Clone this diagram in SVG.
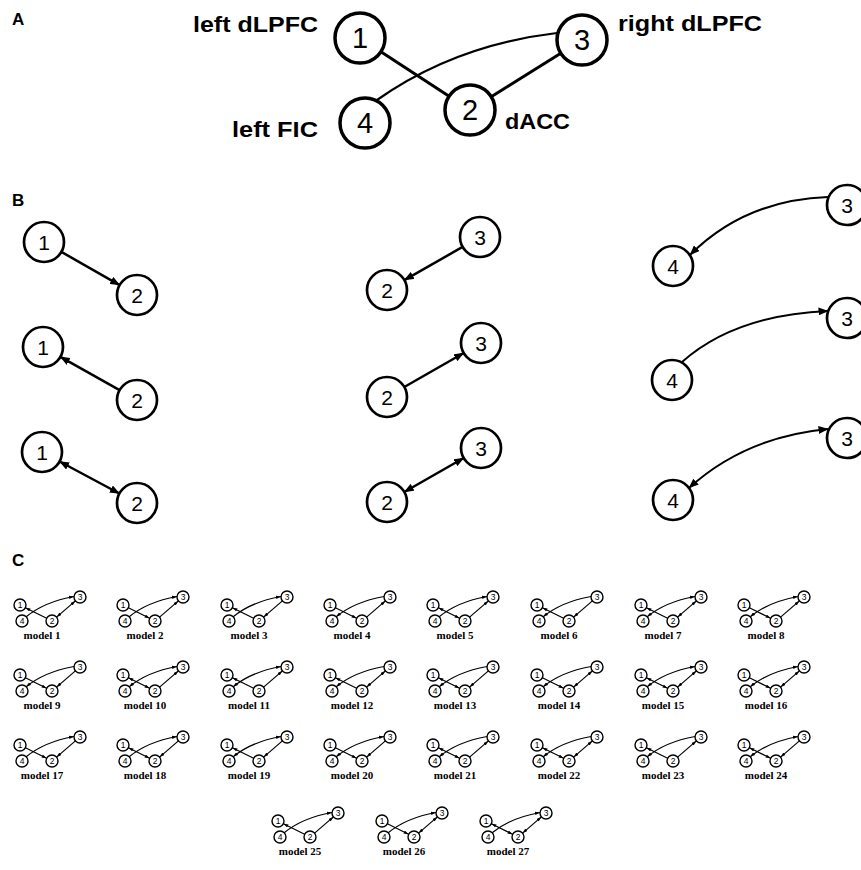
<svg xmlns="http://www.w3.org/2000/svg" width="861" height="870" viewBox="0 0 861 870">
<style>
text{font-family:"Liberation Sans",Arial,sans-serif;fill:#000}
.pl{font-size:17px;font-weight:bold}
.lab{font-size:22px;font-weight:bold}
.na circle{fill:#fff;stroke:#000;stroke-width:3.5}
.na text{font-size:29px;text-anchor:middle}
.nb circle{fill:#fff;stroke:#000;stroke-width:2.7}
.nb text{font-size:21px;text-anchor:middle}
.nc circle{fill:#fff;stroke:#000;stroke-width:1.4}
.nc text{font-size:8.5px;text-anchor:middle}
.ea{fill:none;stroke:#000;stroke-width:3}
.ea.cv{stroke-width:2.2}
.eb{fill:none;stroke:#000;stroke-width:2.5}
.eb.cv{stroke-width:2}
.be{marker-end:url(#ab)}
.bs{marker-start:url(#ab)}
.bb{marker-start:url(#ab);marker-end:url(#ab)}
.ec{fill:none;stroke:#000;stroke-width:1.2}
.e{marker-end:url(#as)}
.s{marker-start:url(#as)}
.b{marker-start:url(#as);marker-end:url(#as)}
.ml{font-family:"Liberation Serif","Times New Roman",serif;font-size:11px;font-weight:bold;text-anchor:middle}
</style>
<defs>
<marker id="ab" viewBox="0 0 10 8" refX="9.5" refY="4" markerWidth="10" markerHeight="8" markerUnits="userSpaceOnUse" orient="auto-start-reverse"><path d="M0,0L10,4L0,8z"/></marker>
<marker id="as" viewBox="0 0 6 4" refX="6" refY="2" markerWidth="5" markerHeight="3.6" markerUnits="userSpaceOnUse" orient="auto-start-reverse"><path d="M0,0L6,2L0,4z"/></marker>
</defs>
<rect width="861" height="870" fill="#fff"/>

<text class="pl" x="12" y="25">A</text>
<text class="pl" x="12" y="206">B</text>
<text class="pl" x="12" y="566">C</text>

<!-- Panel A -->
<g id="a-edges">
<path class="ea" d="M380.9,51.7L449.1,96.3"/>
<path class="ea" d="M491.2,96.7L560.8,53.3"/>
<path class="ea cv" d="M377,100Q455,45 557,33"/>
</g>
<g id="a-n1" class="na"><circle cx="360" cy="38" r="25"/><text x="360" y="48">1</text></g>
<g id="a-n2" class="na"><circle cx="470" cy="110" r="25"/><text x="470" y="120">2</text></g>
<g id="a-n3" class="na"><circle cx="582" cy="40" r="25"/><text x="582" y="50">3</text></g>
<g id="a-n4" class="na"><circle cx="365" cy="123" r="25"/><text x="365" y="133">4</text></g>
<text class="lab" x="193" y="32" textLength="125" lengthAdjust="spacingAndGlyphs">left dLPFC</text>
<text class="lab" x="232" y="137" textLength="86" lengthAdjust="spacingAndGlyphs">left FIC</text>
<text class="lab" x="618" y="31" textLength="144" lengthAdjust="spacingAndGlyphs">right dLPFC</text>
<text class="lab" x="505" y="129" textLength="65" lengthAdjust="spacingAndGlyphs">dACC</text>

<!-- Panel B -->
<g id="b-edges">
<path class="eb be" d="M61.4,251.9L119.6,285.1"/>
<path class="eb bs" d="M60.4,356.8L119.6,390.2"/>
<path class="eb bb" d="M59.6,461.5L119.4,493.5"/>
<path class="eb bs" d="M404.4,280.1L462.6,246.9"/>
<path class="eb be" d="M404.3,387L463.7,353"/>
<path class="eb bb" d="M404.3,492L463.7,458"/>
<path class="eb cv bs" d="M690,255Q745,200 828,197"/>
<path class="eb cv be" d="M682,362Q735,315 828,311"/>
<path class="eb cv bb" d="M689,488Q745,437 828,429"/>
</g>
<g id="b1-n1" class="nb"><circle cx="44" cy="242" r="20"/><text x="44" y="249.5">1</text></g>
<g id="b1-n2" class="nb"><circle cx="137" cy="295" r="20"/><text x="137" y="302.5">2</text></g>
<g id="b2-n1" class="nb"><circle cx="43" cy="347" r="20"/><text x="43" y="354.5">1</text></g>
<g id="b2-n2" class="nb"><circle cx="137" cy="400" r="20"/><text x="137" y="407.5">2</text></g>
<g id="b3-n1" class="nb"><circle cx="42" cy="452" r="20"/><text x="42" y="459.5">1</text></g>
<g id="b3-n2" class="nb"><circle cx="137" cy="503" r="20"/><text x="137" y="510.5">2</text></g>
<g id="b4-n3" class="nb"><circle cx="480" cy="237" r="20"/><text x="480" y="244.5">3</text></g>
<g id="b4-n2" class="nb"><circle cx="387" cy="290" r="20"/><text x="387" y="297.5">2</text></g>
<g id="b5-n3" class="nb"><circle cx="481" cy="343" r="20"/><text x="481" y="350.5">3</text></g>
<g id="b5-n2" class="nb"><circle cx="387" cy="397" r="20"/><text x="387" y="404.5">2</text></g>
<g id="b6-n3" class="nb"><circle cx="481" cy="448" r="20"/><text x="481" y="455.5">3</text></g>
<g id="b6-n2" class="nb"><circle cx="387" cy="502" r="20"/><text x="387" y="509.5">2</text></g>
<g id="b7-n3" class="nb"><circle cx="847" cy="205" r="20"/><text x="847" y="212.5">3</text></g>
<g id="b7-n4" class="nb"><circle cx="673" cy="266" r="20"/><text x="673" y="273.5">4</text></g>
<g id="b8-n3" class="nb"><circle cx="847" cy="318" r="20"/><text x="847" y="325.5">3</text></g>
<g id="b8-n4" class="nb"><circle cx="672" cy="380" r="20"/><text x="672" y="387.5">4</text></g>
<g id="b9-n3" class="nb"><circle cx="847" cy="438" r="20"/><text x="847" y="445.5">3</text></g>
<g id="b9-n4" class="nb"><circle cx="673" cy="500" r="20"/><text x="673" y="507.5">4</text></g>

<!-- Panel C -->
<g id="model-1" transform="translate(20,605)">
<g id="m1-edges"><path class="ec s" d="M5.4,2.7L26.6,13.3"/><path class="ec b" d="M36.6,12.1L55.4,-4.1"/><path class="ec e" d="M6.2,11.8Q24,-3 54,-8.5"/></g>
<g id="m1-n1" class="nc"><circle cx="0" cy="0" r="6"/><text x="0" y="3.1">1</text></g>
<g id="m1-n4" class="nc"><circle cx="2" cy="16" r="6"/><text x="2" y="19.1">4</text></g>
<g id="m1-n2" class="nc"><circle cx="32" cy="16" r="6"/><text x="32" y="19.1">2</text></g>
<g id="m1-n3" class="nc"><circle cx="60" cy="-8" r="6"/><text x="60" y="-4.9">3</text></g>
<text class="ml" x="22" y="34">model 1</text>
</g>
<g id="model-2" transform="translate(123,605)">
<g id="m2-edges"><path class="ec e" d="M5.4,2.7L26.6,13.3"/><path class="ec e" d="M36.6,12.1L55.4,-4.1"/><path class="ec e" d="M6.2,11.8Q24,-3 54,-8.5"/></g>
<g id="m2-n1" class="nc"><circle cx="0" cy="0" r="6"/><text x="0" y="3.1">1</text></g>
<g id="m2-n4" class="nc"><circle cx="2" cy="16" r="6"/><text x="2" y="19.1">4</text></g>
<g id="m2-n2" class="nc"><circle cx="32" cy="16" r="6"/><text x="32" y="19.1">2</text></g>
<g id="m2-n3" class="nc"><circle cx="60" cy="-8" r="6"/><text x="60" y="-4.9">3</text></g>
<text class="ml" x="22" y="34">model 2</text>
</g>
<g id="model-3" transform="translate(227,605)">
<g id="m3-edges"><path class="ec s" d="M5.4,2.7L26.6,13.3"/><path class="ec s" d="M36.6,12.1L55.4,-4.1"/><path class="ec e" d="M6.2,11.8Q24,-3 54,-8.5"/></g>
<g id="m3-n1" class="nc"><circle cx="0" cy="0" r="6"/><text x="0" y="3.1">1</text></g>
<g id="m3-n4" class="nc"><circle cx="2" cy="16" r="6"/><text x="2" y="19.1">4</text></g>
<g id="m3-n2" class="nc"><circle cx="32" cy="16" r="6"/><text x="32" y="19.1">2</text></g>
<g id="m3-n3" class="nc"><circle cx="60" cy="-8" r="6"/><text x="60" y="-4.9">3</text></g>
<text class="ml" x="22" y="34">model 3</text>
</g>
<g id="model-4" transform="translate(330,605)">
<g id="m4-edges"><path class="ec e" d="M5.4,2.7L26.6,13.3"/><path class="ec e" d="M36.6,12.1L55.4,-4.1"/><path class="ec s" d="M6.2,11.8Q24,-3 54,-8.5"/></g>
<g id="m4-n1" class="nc"><circle cx="0" cy="0" r="6"/><text x="0" y="3.1">1</text></g>
<g id="m4-n4" class="nc"><circle cx="2" cy="16" r="6"/><text x="2" y="19.1">4</text></g>
<g id="m4-n2" class="nc"><circle cx="32" cy="16" r="6"/><text x="32" y="19.1">2</text></g>
<g id="m4-n3" class="nc"><circle cx="60" cy="-8" r="6"/><text x="60" y="-4.9">3</text></g>
<text class="ml" x="22" y="34">model 4</text>
</g>
<g id="model-5" transform="translate(433,605)">
<g id="m5-edges"><path class="ec b" d="M5.4,2.7L26.6,13.3"/><path class="ec e" d="M36.6,12.1L55.4,-4.1"/><path class="ec e" d="M6.2,11.8Q24,-3 54,-8.5"/></g>
<g id="m5-n1" class="nc"><circle cx="0" cy="0" r="6"/><text x="0" y="3.1">1</text></g>
<g id="m5-n4" class="nc"><circle cx="2" cy="16" r="6"/><text x="2" y="19.1">4</text></g>
<g id="m5-n2" class="nc"><circle cx="32" cy="16" r="6"/><text x="32" y="19.1">2</text></g>
<g id="m5-n3" class="nc"><circle cx="60" cy="-8" r="6"/><text x="60" y="-4.9">3</text></g>
<text class="ml" x="22" y="34">model 5</text>
</g>
<g id="model-6" transform="translate(537,605)">
<g id="m6-edges"><path class="ec s" d="M5.4,2.7L26.6,13.3"/><path class="ec s" d="M36.6,12.1L55.4,-4.1"/><path class="ec s" d="M6.2,11.8Q24,-3 54,-8.5"/></g>
<g id="m6-n1" class="nc"><circle cx="0" cy="0" r="6"/><text x="0" y="3.1">1</text></g>
<g id="m6-n4" class="nc"><circle cx="2" cy="16" r="6"/><text x="2" y="19.1">4</text></g>
<g id="m6-n2" class="nc"><circle cx="32" cy="16" r="6"/><text x="32" y="19.1">2</text></g>
<g id="m6-n3" class="nc"><circle cx="60" cy="-8" r="6"/><text x="60" y="-4.9">3</text></g>
<text class="ml" x="22" y="34">model 6</text>
</g>
<g id="model-7" transform="translate(641,605)">
<g id="m7-edges"><path class="ec s" d="M5.4,2.7L26.6,13.3"/><path class="ec b" d="M36.6,12.1L55.4,-4.1"/><path class="ec b" d="M6.2,11.8Q24,-3 54,-8.5"/></g>
<g id="m7-n1" class="nc"><circle cx="0" cy="0" r="6"/><text x="0" y="3.1">1</text></g>
<g id="m7-n4" class="nc"><circle cx="2" cy="16" r="6"/><text x="2" y="19.1">4</text></g>
<g id="m7-n2" class="nc"><circle cx="32" cy="16" r="6"/><text x="32" y="19.1">2</text></g>
<g id="m7-n3" class="nc"><circle cx="60" cy="-8" r="6"/><text x="60" y="-4.9">3</text></g>
<text class="ml" x="22" y="34">model 7</text>
</g>
<g id="model-8" transform="translate(744,605)">
<g id="m8-edges"><path class="ec e" d="M5.4,2.7L26.6,13.3"/><path class="ec e" d="M36.6,12.1L55.4,-4.1"/><path class="ec b" d="M6.2,11.8Q24,-3 54,-8.5"/></g>
<g id="m8-n1" class="nc"><circle cx="0" cy="0" r="6"/><text x="0" y="3.1">1</text></g>
<g id="m8-n4" class="nc"><circle cx="2" cy="16" r="6"/><text x="2" y="19.1">4</text></g>
<g id="m8-n2" class="nc"><circle cx="32" cy="16" r="6"/><text x="32" y="19.1">2</text></g>
<g id="m8-n3" class="nc"><circle cx="60" cy="-8" r="6"/><text x="60" y="-4.9">3</text></g>
<text class="ml" x="22" y="34">model 8</text>
</g>

<g id="model-9" transform="translate(20,675)">
<g id="m9-edges"><path class="ec e" d="M5.4,2.7L26.6,13.3"/><path class="ec s" d="M36.6,12.1L55.4,-4.1"/><path class="ec s" d="M6.2,11.8Q24,-3 54,-8.5"/></g>
<g id="m9-n1" class="nc"><circle cx="0" cy="0" r="6"/><text x="0" y="3.1">1</text></g>
<g id="m9-n4" class="nc"><circle cx="2" cy="16" r="6"/><text x="2" y="19.1">4</text></g>
<g id="m9-n2" class="nc"><circle cx="32" cy="16" r="6"/><text x="32" y="19.1">2</text></g>
<g id="m9-n3" class="nc"><circle cx="60" cy="-8" r="6"/><text x="60" y="-4.9">3</text></g>
<text class="ml" x="22" y="34">model 9</text>
</g>
<g id="model-10" transform="translate(123,675)">
<g id="m10-edges"><path class="ec b" d="M5.4,2.7L26.6,13.3"/><path class="ec e" d="M36.6,12.1L55.4,-4.1"/><path class="ec b" d="M6.2,11.8Q24,-3 54,-8.5"/></g>
<g id="m10-n1" class="nc"><circle cx="0" cy="0" r="6"/><text x="0" y="3.1">1</text></g>
<g id="m10-n4" class="nc"><circle cx="2" cy="16" r="6"/><text x="2" y="19.1">4</text></g>
<g id="m10-n2" class="nc"><circle cx="32" cy="16" r="6"/><text x="32" y="19.1">2</text></g>
<g id="m10-n3" class="nc"><circle cx="60" cy="-8" r="6"/><text x="60" y="-4.9">3</text></g>
<text class="ml" x="22" y="34">model 10</text>
</g>
<g id="model-11" transform="translate(227,675)">
<g id="m11-edges"><path class="ec s" d="M5.4,2.7L26.6,13.3"/><path class="ec e" d="M36.6,12.1L55.4,-4.1"/><path class="ec b" d="M6.2,11.8Q24,-3 54,-8.5"/></g>
<g id="m11-n1" class="nc"><circle cx="0" cy="0" r="6"/><text x="0" y="3.1">1</text></g>
<g id="m11-n4" class="nc"><circle cx="2" cy="16" r="6"/><text x="2" y="19.1">4</text></g>
<g id="m11-n2" class="nc"><circle cx="32" cy="16" r="6"/><text x="32" y="19.1">2</text></g>
<g id="m11-n3" class="nc"><circle cx="60" cy="-8" r="6"/><text x="60" y="-4.9">3</text></g>
<text class="ml" x="22" y="34">model 11</text>
</g>
<g id="model-12" transform="translate(330,675)">
<g id="m12-edges"><path class="ec s" d="M5.4,2.7L26.6,13.3"/><path class="ec b" d="M36.6,12.1L55.4,-4.1"/><path class="ec s" d="M6.2,11.8Q24,-3 54,-8.5"/></g>
<g id="m12-n1" class="nc"><circle cx="0" cy="0" r="6"/><text x="0" y="3.1">1</text></g>
<g id="m12-n4" class="nc"><circle cx="2" cy="16" r="6"/><text x="2" y="19.1">4</text></g>
<g id="m12-n2" class="nc"><circle cx="32" cy="16" r="6"/><text x="32" y="19.1">2</text></g>
<g id="m12-n3" class="nc"><circle cx="60" cy="-8" r="6"/><text x="60" y="-4.9">3</text></g>
<text class="ml" x="22" y="34">model 12</text>
</g>
<g id="model-13" transform="translate(433,675)">
<g id="m13-edges"><path class="ec b" d="M5.4,2.7L26.6,13.3"/><path class="ec s" d="M36.6,12.1L55.4,-4.1"/><path class="ec s" d="M6.2,11.8Q24,-3 54,-8.5"/></g>
<g id="m13-n1" class="nc"><circle cx="0" cy="0" r="6"/><text x="0" y="3.1">1</text></g>
<g id="m13-n4" class="nc"><circle cx="2" cy="16" r="6"/><text x="2" y="19.1">4</text></g>
<g id="m13-n2" class="nc"><circle cx="32" cy="16" r="6"/><text x="32" y="19.1">2</text></g>
<g id="m13-n3" class="nc"><circle cx="60" cy="-8" r="6"/><text x="60" y="-4.9">3</text></g>
<text class="ml" x="22" y="34">model 13</text>
</g>
<g id="model-14" transform="translate(537,675)">
<g id="m14-edges"><path class="ec e" d="M5.4,2.7L26.6,13.3"/><path class="ec b" d="M36.6,12.1L55.4,-4.1"/><path class="ec s" d="M6.2,11.8Q24,-3 54,-8.5"/></g>
<g id="m14-n1" class="nc"><circle cx="0" cy="0" r="6"/><text x="0" y="3.1">1</text></g>
<g id="m14-n4" class="nc"><circle cx="2" cy="16" r="6"/><text x="2" y="19.1">4</text></g>
<g id="m14-n2" class="nc"><circle cx="32" cy="16" r="6"/><text x="32" y="19.1">2</text></g>
<g id="m14-n3" class="nc"><circle cx="60" cy="-8" r="6"/><text x="60" y="-4.9">3</text></g>
<text class="ml" x="22" y="34">model 14</text>
</g>
<g id="model-15" transform="translate(641,675)">
<g id="m15-edges"><path class="ec b" d="M5.4,2.7L26.6,13.3"/><path class="ec b" d="M36.6,12.1L55.4,-4.1"/><path class="ec b" d="M6.2,11.8Q24,-3 54,-8.5"/></g>
<g id="m15-n1" class="nc"><circle cx="0" cy="0" r="6"/><text x="0" y="3.1">1</text></g>
<g id="m15-n4" class="nc"><circle cx="2" cy="16" r="6"/><text x="2" y="19.1">4</text></g>
<g id="m15-n2" class="nc"><circle cx="32" cy="16" r="6"/><text x="32" y="19.1">2</text></g>
<g id="m15-n3" class="nc"><circle cx="60" cy="-8" r="6"/><text x="60" y="-4.9">3</text></g>
<text class="ml" x="22" y="34">model 15</text>
</g>
<g id="model-16" transform="translate(744,675)">
<g id="m16-edges"><path class="ec e" d="M5.4,2.7L26.6,13.3"/><path class="ec b" d="M36.6,12.1L55.4,-4.1"/><path class="ec b" d="M6.2,11.8Q24,-3 54,-8.5"/></g>
<g id="m16-n1" class="nc"><circle cx="0" cy="0" r="6"/><text x="0" y="3.1">1</text></g>
<g id="m16-n4" class="nc"><circle cx="2" cy="16" r="6"/><text x="2" y="19.1">4</text></g>
<g id="m16-n2" class="nc"><circle cx="32" cy="16" r="6"/><text x="32" y="19.1">2</text></g>
<g id="m16-n3" class="nc"><circle cx="60" cy="-8" r="6"/><text x="60" y="-4.9">3</text></g>
<text class="ml" x="22" y="34">model 16</text>
</g>

<g id="model-17" transform="translate(20,745)">
<g id="m17-edges"><path class="ec e" d="M5.4,2.7L26.6,13.3"/><path class="ec s" d="M36.6,12.1L55.4,-4.1"/><path class="ec e" d="M6.2,11.8Q24,-3 54,-8.5"/></g>
<g id="m17-n1" class="nc"><circle cx="0" cy="0" r="6"/><text x="0" y="3.1">1</text></g>
<g id="m17-n4" class="nc"><circle cx="2" cy="16" r="6"/><text x="2" y="19.1">4</text></g>
<g id="m17-n2" class="nc"><circle cx="32" cy="16" r="6"/><text x="32" y="19.1">2</text></g>
<g id="m17-n3" class="nc"><circle cx="60" cy="-8" r="6"/><text x="60" y="-4.9">3</text></g>
<text class="ml" x="22" y="34">model 17</text>
</g>
<g id="model-18" transform="translate(123,745)">
<g id="m18-edges"><path class="ec b" d="M5.4,2.7L26.6,13.3"/><path class="ec s" d="M36.6,12.1L55.4,-4.1"/><path class="ec e" d="M6.2,11.8Q24,-3 54,-8.5"/></g>
<g id="m18-n1" class="nc"><circle cx="0" cy="0" r="6"/><text x="0" y="3.1">1</text></g>
<g id="m18-n4" class="nc"><circle cx="2" cy="16" r="6"/><text x="2" y="19.1">4</text></g>
<g id="m18-n2" class="nc"><circle cx="32" cy="16" r="6"/><text x="32" y="19.1">2</text></g>
<g id="m18-n3" class="nc"><circle cx="60" cy="-8" r="6"/><text x="60" y="-4.9">3</text></g>
<text class="ml" x="22" y="34">model 18</text>
</g>
<g id="model-19" transform="translate(227,745)">
<g id="m19-edges"><path class="ec s" d="M5.4,2.7L26.6,13.3"/><path class="ec s" d="M36.6,12.1L55.4,-4.1"/><path class="ec b" d="M6.2,11.8Q24,-3 54,-8.5"/></g>
<g id="m19-n1" class="nc"><circle cx="0" cy="0" r="6"/><text x="0" y="3.1">1</text></g>
<g id="m19-n4" class="nc"><circle cx="2" cy="16" r="6"/><text x="2" y="19.1">4</text></g>
<g id="m19-n2" class="nc"><circle cx="32" cy="16" r="6"/><text x="32" y="19.1">2</text></g>
<g id="m19-n3" class="nc"><circle cx="60" cy="-8" r="6"/><text x="60" y="-4.9">3</text></g>
<text class="ml" x="22" y="34">model 19</text>
</g>
<g id="model-20" transform="translate(330,745)">
<g id="m20-edges"><path class="ec e" d="M5.4,2.7L26.6,13.3"/><path class="ec s" d="M36.6,12.1L55.4,-4.1"/><path class="ec b" d="M6.2,11.8Q24,-3 54,-8.5"/></g>
<g id="m20-n1" class="nc"><circle cx="0" cy="0" r="6"/><text x="0" y="3.1">1</text></g>
<g id="m20-n4" class="nc"><circle cx="2" cy="16" r="6"/><text x="2" y="19.1">4</text></g>
<g id="m20-n2" class="nc"><circle cx="32" cy="16" r="6"/><text x="32" y="19.1">2</text></g>
<g id="m20-n3" class="nc"><circle cx="60" cy="-8" r="6"/><text x="60" y="-4.9">3</text></g>
<text class="ml" x="22" y="34">model 20</text>
</g>
<g id="model-21" transform="translate(433,745)">
<g id="m21-edges"><path class="ec b" d="M5.4,2.7L26.6,13.3"/><path class="ec e" d="M36.6,12.1L55.4,-4.1"/><path class="ec s" d="M6.2,11.8Q24,-3 54,-8.5"/></g>
<g id="m21-n1" class="nc"><circle cx="0" cy="0" r="6"/><text x="0" y="3.1">1</text></g>
<g id="m21-n4" class="nc"><circle cx="2" cy="16" r="6"/><text x="2" y="19.1">4</text></g>
<g id="m21-n2" class="nc"><circle cx="32" cy="16" r="6"/><text x="32" y="19.1">2</text></g>
<g id="m21-n3" class="nc"><circle cx="60" cy="-8" r="6"/><text x="60" y="-4.9">3</text></g>
<text class="ml" x="22" y="34">model 21</text>
</g>
<g id="model-22" transform="translate(537,745)">
<g id="m22-edges"><path class="ec b" d="M5.4,2.7L26.6,13.3"/><path class="ec b" d="M36.6,12.1L55.4,-4.1"/><path class="ec s" d="M6.2,11.8Q24,-3 54,-8.5"/></g>
<g id="m22-n1" class="nc"><circle cx="0" cy="0" r="6"/><text x="0" y="3.1">1</text></g>
<g id="m22-n4" class="nc"><circle cx="2" cy="16" r="6"/><text x="2" y="19.1">4</text></g>
<g id="m22-n2" class="nc"><circle cx="32" cy="16" r="6"/><text x="32" y="19.1">2</text></g>
<g id="m22-n3" class="nc"><circle cx="60" cy="-8" r="6"/><text x="60" y="-4.9">3</text></g>
<text class="ml" x="22" y="34">model 22</text>
</g>
<g id="model-23" transform="translate(641,745)">
<g id="m23-edges"><path class="ec s" d="M5.4,2.7L26.6,13.3"/><path class="ec e" d="M36.6,12.1L55.4,-4.1"/><path class="ec s" d="M6.2,11.8Q24,-3 54,-8.5"/></g>
<g id="m23-n1" class="nc"><circle cx="0" cy="0" r="6"/><text x="0" y="3.1">1</text></g>
<g id="m23-n4" class="nc"><circle cx="2" cy="16" r="6"/><text x="2" y="19.1">4</text></g>
<g id="m23-n2" class="nc"><circle cx="32" cy="16" r="6"/><text x="32" y="19.1">2</text></g>
<g id="m23-n3" class="nc"><circle cx="60" cy="-8" r="6"/><text x="60" y="-4.9">3</text></g>
<text class="ml" x="22" y="34">model 23</text>
</g>
<g id="model-24" transform="translate(744,745)">
<g id="m24-edges"><path class="ec b" d="M5.4,2.7L26.6,13.3"/><path class="ec s" d="M36.6,12.1L55.4,-4.1"/><path class="ec b" d="M6.2,11.8Q24,-3 54,-8.5"/></g>
<g id="m24-n1" class="nc"><circle cx="0" cy="0" r="6"/><text x="0" y="3.1">1</text></g>
<g id="m24-n4" class="nc"><circle cx="2" cy="16" r="6"/><text x="2" y="19.1">4</text></g>
<g id="m24-n2" class="nc"><circle cx="32" cy="16" r="6"/><text x="32" y="19.1">2</text></g>
<g id="m24-n3" class="nc"><circle cx="60" cy="-8" r="6"/><text x="60" y="-4.9">3</text></g>
<text class="ml" x="22" y="34">model 24</text>
</g>

<g id="model-25" transform="translate(278,821)">
<g id="m25-edges"><path class="ec s" d="M5.4,2.7L26.6,13.3"/><path class="ec e" d="M36.6,12.1L55.4,-4.1"/><path class="ec e" d="M6.2,11.8Q24,-3 54,-8.5"/></g>
<g id="m25-n1" class="nc"><circle cx="0" cy="0" r="6"/><text x="0" y="3.1">1</text></g>
<g id="m25-n4" class="nc"><circle cx="2" cy="16" r="6"/><text x="2" y="19.1">4</text></g>
<g id="m25-n2" class="nc"><circle cx="32" cy="16" r="6"/><text x="32" y="19.1">2</text></g>
<g id="m25-n3" class="nc"><circle cx="60" cy="-8" r="6"/><text x="60" y="-4.9">3</text></g>
<text class="ml" x="22" y="34">model 25</text>
</g>
<g id="model-26" transform="translate(382,821)">
<g id="m26-edges"><path class="ec e" d="M5.4,2.7L26.6,13.3"/><path class="ec b" d="M36.6,12.1L55.4,-4.1"/><path class="ec e" d="M6.2,11.8Q24,-3 54,-8.5"/></g>
<g id="m26-n1" class="nc"><circle cx="0" cy="0" r="6"/><text x="0" y="3.1">1</text></g>
<g id="m26-n4" class="nc"><circle cx="2" cy="16" r="6"/><text x="2" y="19.1">4</text></g>
<g id="m26-n2" class="nc"><circle cx="32" cy="16" r="6"/><text x="32" y="19.1">2</text></g>
<g id="m26-n3" class="nc"><circle cx="60" cy="-8" r="6"/><text x="60" y="-4.9">3</text></g>
<text class="ml" x="22" y="34">model 26</text>
</g>
<g id="model-27" transform="translate(486,821)">
<g id="m27-edges"><path class="ec b" d="M5.4,2.7L26.6,13.3"/><path class="ec b" d="M36.6,12.1L55.4,-4.1"/><path class="ec e" d="M6.2,11.8Q24,-3 54,-8.5"/></g>
<g id="m27-n1" class="nc"><circle cx="0" cy="0" r="6"/><text x="0" y="3.1">1</text></g>
<g id="m27-n4" class="nc"><circle cx="2" cy="16" r="6"/><text x="2" y="19.1">4</text></g>
<g id="m27-n2" class="nc"><circle cx="32" cy="16" r="6"/><text x="32" y="19.1">2</text></g>
<g id="m27-n3" class="nc"><circle cx="60" cy="-8" r="6"/><text x="60" y="-4.9">3</text></g>
<text class="ml" x="22" y="34">model 27</text>
</g>
</svg>
